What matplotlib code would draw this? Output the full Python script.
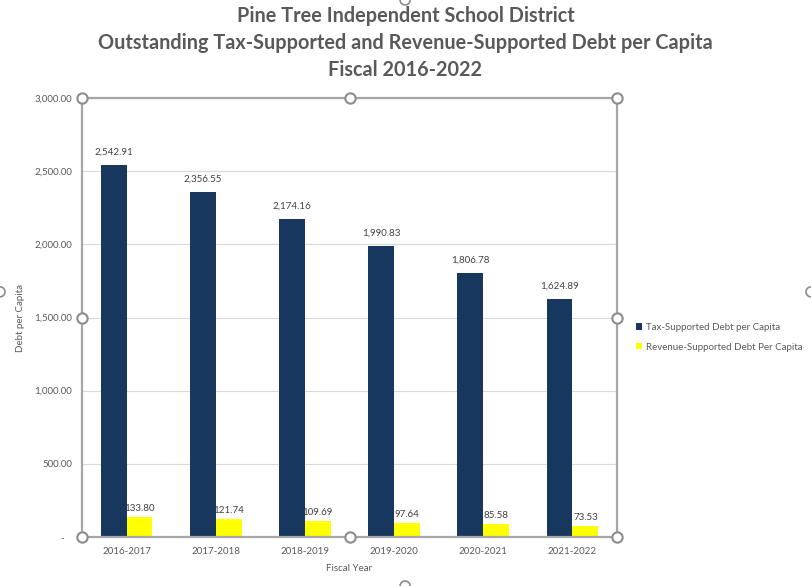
import matplotlib
matplotlib.use("Agg")
import matplotlib.pyplot as plt
import numpy as np

plt.rcParams['font.family'] = ['Lato', 'DejaVu Sans']

years = ['2016-2017', '2017-2018', '2018-2019', '2019-2020', '2020-2021', '2021-2022']
tax_debt = [2542.91, 2356.55, 2174.16, 1990.83, 1806.78, 1624.89]
revenue_debt = [133.80, 121.74, 109.69, 97.64, 85.58, 73.53]
series_names = ['Tax-Supported Debt per Capita', 'Revenue-Supported Debt Per Capita']

navy = '#17375E'
yellow = '#FFFF00'
grey_txt = '#595959'
frame = '#A6A6A6'

fig = plt.figure(figsize=(8.11, 5.86), dpi=100)
ax = fig.add_axes([0.1011, 0.0836, 0.6597, 0.7491])

x = np.arange(len(years))
w = 0.29
b1 = ax.bar(x - w / 2, tax_debt, w, color=navy, label=series_names[0], zorder=3)
b2 = ax.bar(x + w / 2, revenue_debt, w, color=yellow, label=series_names[1], zorder=3)

for rect, v in zip(b1, tax_debt):
    ax.annotate(f"{v:,.2f}", (rect.get_x() + rect.get_width() / 2, v), xytext=(0, 6),
                textcoords='offset points', ha='center', va='bottom', fontsize=7, color='#404040')
for rect, v in zip(b2, revenue_debt):
    ax.annotate(f"{v:,.2f}", (rect.get_x() + rect.get_width() / 2, v), xytext=(0, 3),
                textcoords='offset points', ha='center', va='bottom', fontsize=7, color='#404040')

ax.set_xlim(-0.5, len(years) - 0.5)
ax.set_ylim(0, 3000)
yt = np.arange(0, 3001, 500)
ax.set_yticks(yt)
ax.set_yticklabels(['-   '] + [f"{v:,.2f}" for v in yt[1:]])
ax.set_xticks(x)
ax.set_xticklabels(years)
ax.tick_params(axis='both', length=0, labelsize=7, labelcolor=grey_txt, pad=7)
ax.grid(axis='y', color='#D9D9D9', linewidth=0.8, zorder=0)

for s in ax.spines.values():
    s.set_color(frame)
    s.set_linewidth(1.6)
    s.set_zorder(4)

ax.set_xlabel('Fiscal Year', fontsize=7, color=grey_txt, labelpad=6)
ax.set_ylabel('Debt per Capita', fontsize=7, color=grey_txt)
ax.yaxis.set_label_coords(-0.107, 0.5)

fig.suptitle('Pine Tree Independent School District\n'
             'Outstanding Tax-Supported and Revenue-Supported Debt per Capita\n'
             'Fiscal 2016-2022', x=0.5, y=0.99, fontsize=14.3, fontweight='bold',
             color=grey_txt, linespacing=1.45)

ax.legend(loc='center left', bbox_to_anchor=(1.02, 0.455), frameon=False, fontsize=7,
          labelcolor=grey_txt, handlelength=0.6, handleheight=0.6, handletextpad=0.4,
          labelspacing=1.1)

# selection handles around the plot area
hx = [0, 0.5, 1, 0, 1, 0, 0.5, 1]
hy = [1, 1, 1, 0.5, 0.5, 0, 0, 0]
ax.scatter(hx, hy, s=55, facecolor='white', edgecolor='#8C8C8C', linewidth=1.5,
           transform=ax.transAxes, clip_on=False, zorder=6)
# chart area handles at the image edges
for cx, cy in [(0.0, 0.502), (1.0, 0.502), (0.4995, 1.0), (0.4995, 0.0)]:
    fig.add_artist(matplotlib.patches.Circle((cx * 811, cy * 586), 5, transform=None,
                                             facecolor='white', edgecolor='#8C8C8C', linewidth=1.2))

fig.savefig('out.png', dpi=100)
